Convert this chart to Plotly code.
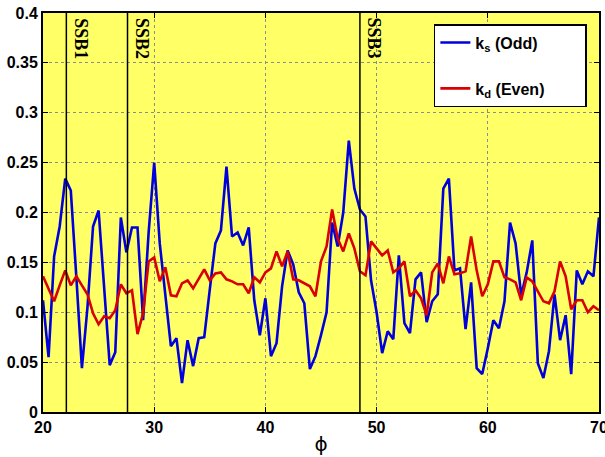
import plotly.graph_objects as go

# ---- data ----
phi = [20 + 0.5 * i for i in range(101)]

ks_odd = [0.112, 0.055, 0.156, 0.186, 0.234, 0.222, 0.135, 0.044, 0.105, 0.186,
          0.202, 0.126, 0.047, 0.060, 0.195, 0.160, 0.185, 0.185, 0.092, 0.180,
          0.250, 0.169, 0.116, 0.066, 0.074, 0.029, 0.072, 0.046, 0.074, 0.075,
          0.123, 0.169, 0.182, 0.246, 0.176, 0.180, 0.167, 0.185, 0.112, 0.077,
          0.114, 0.056, 0.069, 0.126, 0.162, 0.148, 0.120, 0.109, 0.043, 0.056,
          0.077, 0.100, 0.190, 0.166, 0.200, 0.272, 0.224, 0.203, 0.196, 0.132,
          0.100, 0.059, 0.081, 0.073, 0.157, 0.089, 0.079, 0.133, 0.140, 0.090,
          0.111, 0.118, 0.224, 0.234, 0.142, 0.144, 0.083, 0.130, 0.044, 0.038,
          0.064, 0.092, 0.084, 0.111, 0.190, 0.169, 0.117, 0.140, 0.172, 0.049,
          0.034, 0.061, 0.118, 0.072, 0.097, 0.038, 0.142, 0.128, 0.141, 0.136,
          0.195]

kd_even = [0.136, 0.124, 0.111, 0.127, 0.142, 0.127, 0.136, 0.127, 0.118, 0.099,
           0.088, 0.096, 0.094, 0.102, 0.128, 0.119, 0.122, 0.078, 0.099, 0.151,
           0.155, 0.131, 0.145, 0.117, 0.116, 0.129, 0.132, 0.124, 0.133, 0.143,
           0.132, 0.139, 0.140, 0.133, 0.131, 0.128, 0.128, 0.119, 0.135, 0.130,
           0.140, 0.144, 0.161, 0.146, 0.161, 0.133, 0.132, 0.129, 0.126, 0.116,
           0.151, 0.166, 0.203, 0.174, 0.161, 0.179, 0.164, 0.141, 0.137, 0.171,
           0.164, 0.157, 0.162, 0.140, 0.144, 0.151, 0.116, 0.122, 0.114, 0.097,
           0.140, 0.149, 0.129, 0.156, 0.138, 0.139, 0.141, 0.176, 0.142, 0.116,
           0.128, 0.151, 0.151, 0.135, 0.133, 0.130, 0.112, 0.135, 0.131, 0.121,
           0.111, 0.109, 0.121, 0.151, 0.136, 0.103, 0.112, 0.112, 0.100, 0.106,
           0.102]

ssb_positions = [22.1, 27.6, 48.5]
ssb_labels = ["SSB1", "SSB2", "SSB3"]

x_ticks = [20, 30, 40, 50, 60, 70]
x_ticklabels = ["20", "30", "40", "50", "60", "70"]
y_ticks = [0, 0.05, 0.1, 0.15, 0.2, 0.25, 0.3, 0.35, 0.4]
y_ticklabels = ["0", "0.05", "0.1", "0.15", "0.2", "0.25", "0.3", "0.35", "0.4"]

pad = "\u00a0" * 8

# ---- figure ----
fig = go.Figure()
fig.add_trace(go.Scatter(x=phi, y=ks_odd, mode="lines",
                         name="<b>k<sub>s</sub> (Odd)</b>" + pad,
                         line=dict(color="#0000dd", width=2.6), legendgroup="a"))
fig.add_trace(go.Scatter(x=phi, y=kd_even, mode="lines",
                         name="<b>k<sub>d</sub> (Even)</b>" + pad,
                         line=dict(color="#d80000", width=2.6), legendgroup="b"))

for xp, lab in zip(ssb_positions, ssb_labels):
    fig.add_shape(type="line", x0=xp, x1=xp, y0=0, y1=1, xref="x", yref="paper",
                  line=dict(color="black", width=1.5))
    fig.add_annotation(x=xp, y=1, xref="x", yref="paper", text="<b>" + lab + "</b>",
                       textangle=90, showarrow=False, xanchor="center", yanchor="top",
                       xshift=15, yshift=-3,
                       font=dict(family="Liberation Serif", size=18, color="black", weight=700))

tickfont = dict(family="Arial", size=16, color="black", weight=700)

fig.update_xaxes(range=[20, 70], tickvals=x_ticks,
                 ticktext=["<b>" + t + "</b>" for t in x_ticklabels], tickfont=tickfont,
                 showgrid=True, gridcolor="#8c8c8c", griddash="dot", gridwidth=1,
                 showline=True, linecolor="black", linewidth=2, mirror="ticks",
                 ticks="inside", ticklen=5, tickcolor="black", zeroline=False,
                 automargin=False, ticklabeloverflow="allow",
                 title=dict(text="ϕ", font=dict(family="DejaVu Sans", size=20, color="black"),
                            standoff=2))
fig.update_yaxes(range=[0, 0.4], tickvals=y_ticks,
                 ticktext=["<b>" + t + "</b>" for t in y_ticklabels], tickfont=tickfont,
                 showgrid=True, gridcolor="#8c8c8c", griddash="dot", gridwidth=1,
                 showline=True, linecolor="black", linewidth=2, mirror="ticks",
                 ticks="inside", ticklen=5, tickcolor="black", zeroline=False,
                 automargin=False, ticklabeloverflow="allow")

fig.update_layout(
    width=605, height=457,
    margin=dict(l=43, r=6, t=13, b=45),
    paper_bgcolor="white", plot_bgcolor="#ffff66",
    showlegend=True,
    legend=dict(x=0.703, y=0.972, xanchor="left", yanchor="top",
                bgcolor="white", bordercolor="black", borderwidth=1.5,
                font=dict(family="Arial", size=16, color="black", weight=700),
                traceorder="grouped", tracegroupgap=22, itemwidth=30),
)

fig.write_html("out.html", config={"displayModeBar": False},
               post_script="document.body.style.margin='0';document.body.style.overflow='hidden';")
